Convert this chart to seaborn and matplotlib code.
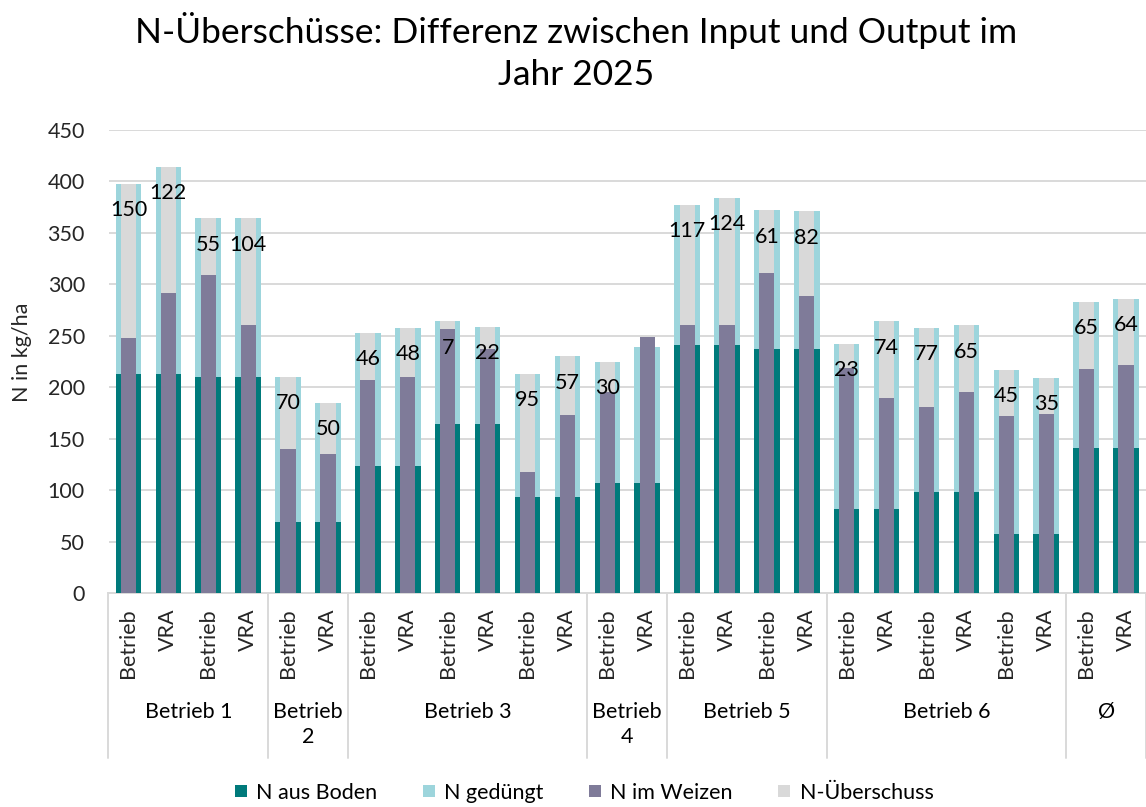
import numpy as np
import pandas as pd
import matplotlib
matplotlib.use("Agg")
import matplotlib.pyplot as plt
import seaborn as sns
from matplotlib.lines import Line2D
from matplotlib.transforms import blended_transform_factory

# Farm groups along the x axis and the number of bars in each
groups = ["Betrieb 1", "Betrieb\n2", "Betrieb 3", "Betrieb\n4", "Betrieb 5", "Betrieb 6", "Ø"]
group_sizes = [4, 2, 6, 2, 4, 6, 2]
variants = ["Betrieb", "VRA"] * 13

# Nitrogen balance per bar (kg N/ha)
n_boden = [213, 213, 210, 210, 69, 69, 123, 123, 164, 164, 93, 93, 107, 107,
           241, 241, 237, 237, 82, 82, 98, 98, 57, 57, 141, 141]
n_geduengt = [185, 201, 154, 154, 141, 116, 130, 135, 100, 95, 120, 137, 118, 132,
              136, 143, 135, 134, 160, 182, 160, 162, 160, 152, 142, 145]
n_weizen = [248, 292, 309, 260, 140, 135, 207, 210, 257, 237, 118, 173, 195, 249,
            260, 260, 311, 289, 219, 190, 181, 195, 172, 174, 218, 222]
n_ueberschuss = [150, 122, 55, 104, 70, 50, 46, 48, 7, 22, 95, 57, 30, np.nan,
                 117, 124, 61, 82, 23, 74, 77, 65, 45, 35, 65, 64]

series_names = ["N aus Boden", "N gedüngt", "N im Weizen", "N-Überschuss"]
colors = ["#007A7B", "#9DD5DC", "#7F7B99", "#D9D9D9"]
grid_color = "#D9D9D9"

sns.set_theme(style="white")
plt.rcParams["font.family"] = ["Lato", "DejaVu Sans"]
plt.rcParams["text.color"] = "#000000"

df = pd.DataFrame({
    "pos": np.arange(len(variants)),
    "variant": variants,
    "boden": n_boden,
    "geduengt": n_geduengt,
    "weizen": n_weizen,
    "ueberschuss": n_ueberschuss,
})
df["input_total"] = df["boden"] + df["geduengt"]
df["output_total"] = df["weizen"] + df["ueberschuss"].fillna(0)

fig = plt.figure(figsize=(11.46, 8.07), dpi=100)
W, H = 1146, 807
ax_left, ax_right, ax_top, ax_bottom = 108.5, 1146, 130, 593
ax = fig.add_axes([ax_left / W, 1 - ax_bottom / H,
                   (ax_right - ax_left) / W, (ax_bottom - ax_top) / H])

outer_w, inner_w = 0.64, 0.38
bar_kw = dict(x="pos", native_scale=True, errorbar=None, saturation=1,
              linewidth=0, ax=ax)

# Input column: fertiliser on top of soil nitrogen (wide bars)
sns.barplot(data=df, y="input_total", width=outer_w, color=colors[1], **bar_kw)
sns.barplot(data=df, y="boden", width=outer_w, color=colors[0], **bar_kw)
# Output column: surplus on top of nitrogen in the wheat (narrow bars)
sns.barplot(data=df, y="output_total", width=inner_w, color=colors[3], **bar_kw)
sns.barplot(data=df, y="weizen", width=inner_w, color=colors[2], **bar_kw)

# Surplus value labels inside the top of each column
for _, row in df.iterrows():
    if pd.notna(row["ueberschuss"]):
        ax.annotate(f"{int(row['ueberschuss'])}", xy=(row["pos"], row["output_total"]),
                    xytext=(0, -19), textcoords="offset points",
                    ha="center", va="center", fontsize=15.5, color="#000000")

# Axes styling
n = len(variants)
ax.set_xlim(-0.5, n - 0.5)
ax.set_ylim(0, 450)
ax.set_yticks(np.arange(0, 451, 50))
ax.yaxis.grid(True, color=grid_color, linewidth=1.4)
ax.xaxis.grid(False)
ax.set_axisbelow(True)
for side in ["top", "right", "left"]:
    ax.spines[side].set_visible(False)
ax.spines["bottom"].set_color(grid_color)
ax.spines["bottom"].set_linewidth(1.4)
ax.spines["bottom"].set_zorder(0.5)

ax.set_xticks(np.arange(n))
ax.set_xticklabels(variants, rotation=90, va="top", ha="center", fontsize=15.5)
ax.tick_params(axis="x", length=0, pad=11)
ax.tick_params(axis="y", length=0, pad=17, labelsize=15.5)
ax.set_xlabel("")
ax.set_ylabel("N in kg/ha", fontsize=15.5)
ax.yaxis.set_label_coords((22 - ax_left) / (ax_right - ax_left), 0.52)
ax.yaxis.label.set_verticalalignment("center")

# Second category level: farm names with separators between groups
trans = blended_transform_factory(ax.transData, fig.transFigure)
bounds = np.concatenate([[0], np.cumsum(group_sizes)]) - 0.5
for b in bounds:
    ax.add_line(Line2D([b, b], [1 - ax_bottom / H, 1 - 758 / H], transform=trans,
                       color=grid_color, linewidth=1.4, clip_on=False))
for g, lo, hi in zip(groups, bounds[:-1], bounds[1:]):
    ax.text((lo + hi) / 2, 1 - 702 / H, g, transform=trans, ha="center", va="top",
            fontsize=15.5, linespacing=1.3)

# Title
fig.text(0.503, 1 - 12 / H, "N-Überschüsse: Differenz zwischen Input und Output im\nJahr 2025",
         ha="center", va="top", fontsize=25.5, linespacing=1.4)

# Legend
handles = [Line2D([], [], marker="s", linestyle="none", markersize=9,
                  markerfacecolor=c, markeredgewidth=0) for c in colors]
fig.legend(handles, series_names, loc="center", ncol=4, frameon=False,
           bbox_to_anchor=(583 / W, 1 - 793 / H), fontsize=15.5,
           handlelength=0.8, handletextpad=0.3, columnspacing=2.0)

fig.savefig("out.png", dpi=100)
